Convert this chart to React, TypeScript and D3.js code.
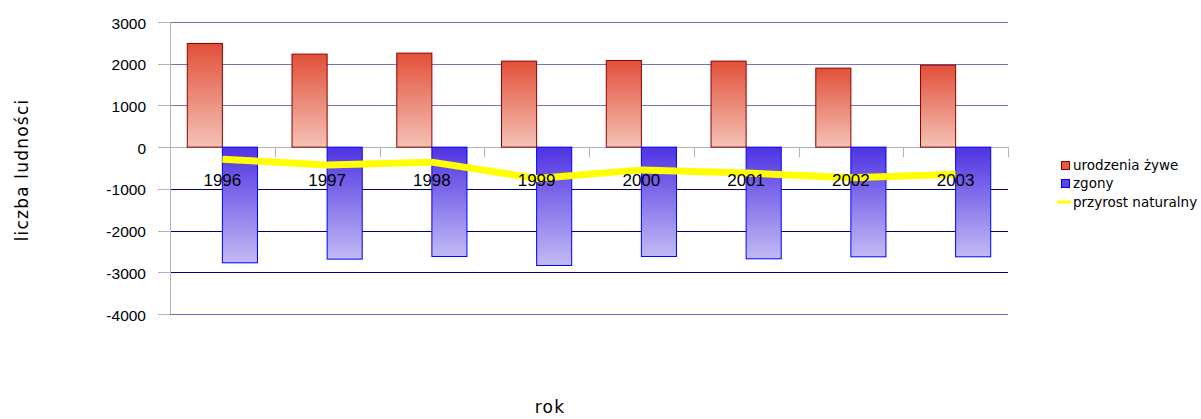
import React from "react";
import * as d3 from "d3";

const years = ["1996", "1997", "1998", "1999", "2000", "2001", "2002", "2003"];
const births = [2485, 2230, 2254, 2062, 2077, 2062, 1894, 1966];
const deaths = [-2773, -2685, -2621, -2837, -2621, -2677, -2629, -2629];
const growth = [-290, -430, -360, -750, -545, -620, -735, -650];
const yTicks = [3000, 2000, 1000, 0, -1000, -2000, -3000, -4000];
const legendItems = ["urodzenia żywe", "zgony", "przyrost naturalny"];

const W = 1201;
const H = 419;
const left = 170;
const right = 1008;
const top = 22;
const bottom = 314;

export default function App() {
  const x = d3.scaleBand<string>().domain(years).range([left, right]).paddingInner(0).paddingOuter(0);
  const y = d3.scaleLinear().domain([-4000, 3000]).range([bottom, top]);
  const bw = x.bandwidth();
  const barW = bw * 0.335;
  const line = d3
    .line<number>()
    .x((_, i) => (x(years[i]) as number) + bw / 2)
    .y((d) => y(d));

  const gridColor = (t: number) => {
    if (t === 0) return "#b3b3b3";
    if (t > 0) return "#7474ba";
    if (t === -4000) return "#6f6fb0";
    return "#00007a";
  };

  return (
    <svg
      width={W}
      height={H}
      style={{ position: "absolute", left: 0, top: 0, background: "#fff" }}
      fontFamily="'Liberation Sans', Arial, sans-serif"
    >
      <defs>
        <linearGradient id="gRed" x1="0" y1="0" x2="0" y2="1">
          <stop offset="0" stopColor="#e2503a" />
          <stop offset="1" stopColor="#f4c2b6" />
        </linearGradient>
        <linearGradient id="gBlue" x1="0" y1="0" x2="0" y2="1">
          <stop offset="0" stopColor="#4f33e2" />
          <stop offset="1" stopColor="#c2baf4" />
        </linearGradient>
      </defs>

      {/* gridlines */}
      {yTicks.map((t) => (
        <g key={t}>
          <line x1={left} x2={right} y1={Math.round(y(t)) + 0.5} y2={Math.round(y(t)) + 0.5} stroke={gridColor(t)} strokeWidth={1} />
          <line x1={158} x2={left} y1={Math.round(y(t)) + 0.5} y2={Math.round(y(t)) + 0.5} stroke="#b3b3b3" strokeWidth={1} />
          <text x={146} y={y(t) + 6.5} textAnchor="end" fontSize={15.5} fill="#000">
            {t}
          </text>
        </g>
      ))}

      {/* y axis */}
      <line x1={left + 0.5} x2={left + 0.5} y1={top} y2={bottom} stroke="#b3b3b3" />

      {/* category ticks */}
      {years.map((yr) => (
        <line
          key={"t" + yr}
          x1={Math.round((x(yr) as number) + bw) + 0.5}
          x2={Math.round((x(yr) as number) + bw) + 0.5}
          y1={y(0)}
          y2={y(0) + 10}
          stroke="#b3b3b3"
        />
      ))}

      {/* bars */}
      {years.map((yr, i) => {
        const c = (x(yr) as number) + bw / 2;
        return (
          <g key={"b" + yr}>
            <rect
              x={c - barW}
              y={y(births[i])}
              width={barW}
              height={y(0) - y(births[i])}
              fill="url(#gRed)"
              stroke="#8b0000"
              strokeWidth={1}
            />
            <rect
              x={c}
              y={y(0)}
              width={barW}
              height={y(deaths[i]) - y(0)}
              fill="url(#gBlue)"
              stroke="#0000ff"
              strokeWidth={1}
            />
          </g>
        );
      })}

      {/* growth line */}
      <path d={line(growth) || ""} fill="none" stroke="#ffff00" strokeWidth={7} strokeLinejoin="round" />

      {/* category labels */}
      {years.map((yr) => (
        <text key={"l" + yr} x={(x(yr) as number) + bw / 2} y={185.5} textAnchor="middle" fontSize={17} fill="#000">
          {yr}
        </text>
      ))}

      {/* axis titles */}
      <text
        transform="translate(28,170) rotate(-90)"
        textAnchor="middle"
        fontSize={17}
        letterSpacing={1.2}
        fontFamily="'DejaVu Sans', sans-serif"
        fill="#000"
      >
        liczba ludności
      </text>
      <text x={550} y={413} textAnchor="middle" fontSize={17} letterSpacing={1.2} fontFamily="'DejaVu Sans', sans-serif" fill="#000">
        rok
      </text>

      {/* legend */}
      <g fontFamily="'DejaVu Sans', sans-serif" fontSize={13.5} fill="#000">
        <rect x={1061.5} y={161.5} width={8} height={8} fill="#e45a44" stroke="#8b0000" />
        <text x={1073} y={170}>{legendItems[0]}</text>
        <rect x={1061.5} y={179.5} width={8} height={8} fill="#5a44e6" stroke="#0000ff" />
        <text x={1073} y={188}>{legendItems[1]}</text>
        <line x1={1057} x2={1071} y1={202} y2={202} stroke="#ffff00" strokeWidth={3} />
        <text x={1073} y={206.5}>{legendItems[2]}</text>
      </g>
    </svg>
  );
}
